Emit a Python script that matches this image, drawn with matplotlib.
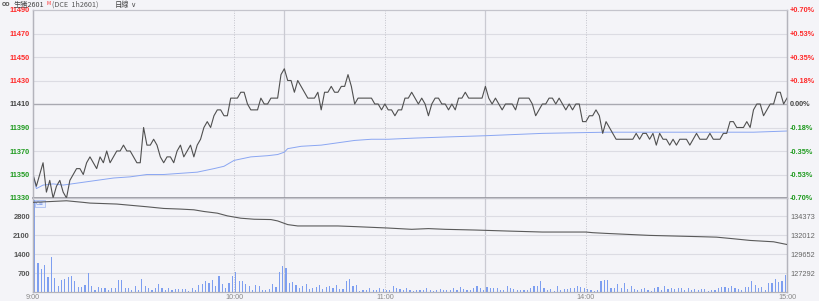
import matplotlib
matplotlib.use('Agg')
import matplotlib.pyplot as plt

plt.rcParams['font.family'] = ['Liberation Sans', 'DejaVu Sans']

# minute index 0..225 (9:00-10:15, 10:30-11:30, 13:30-15:00)
price = [
    11350, 11340, 11350, 11360, 11335, 11345, 11330, 11340, 11345, 11335,
    11330, 11345, 11350, 11355, 11355, 11350, 11360, 11365, 11360, 11355,
    11365, 11360, 11370, 11360, 11365, 11370, 11370, 11375, 11370, 11370,
    11365, 11360, 11360, 11390, 11375, 11375, 11380, 11375, 11365, 11360,
    11365, 11365, 11360, 11370, 11375, 11365, 11370, 11375, 11365, 11375,
    11380, 11390, 11395, 11390, 11400, 11405, 11405, 11400,
    11400, 11415, 11415, 11415, 11420, 11420, 11410, 11405, 11405, 11405,
    11415, 11410, 11410, 11415, 11415, 11415, 11435, 11440, 11430, 11430,
    11420, 11430, 11425, 11420, 11415, 11415, 11415, 11420, 11405, 11420,
    11420, 11425, 11420, 11420, 11425, 11425, 11435, 11425, 11410, 11415,
    11415, 11415, 11415, 11415, 11410, 11410, 11405, 11410, 11405, 11405,
    11400, 11405, 11405, 11415, 11415, 11420, 11415,
    11410, 11415, 11410, 11400, 11410, 11415, 11415, 11410, 11410, 11405,
    11410, 11405, 11415, 11415, 11420, 11415, 11415, 11415, 11415, 11415,
    11425, 11415, 11410, 11415, 11410, 11405, 11410, 11410, 11410, 11405,
    11415, 11415, 11415, 11415, 11410, 11400, 11405, 11410, 11410, 11415,
    11415, 11410, 11415, 11410, 11405, 11410, 11405, 11410, 11410, 11395,
    11395, 11400, 11400, 11405, 11400, 11385, 11395, 11390, 11385, 11380,
    11380, 11380, 11380, 11380, 11380, 11385, 11380, 11385, 11385, 11380,
    11385, 11375, 11385, 11380, 11380, 11375, 11380, 11375, 11380, 11380,
    11380, 11375, 11380, 11385, 11380, 11380, 11380, 11385, 11380, 11380,
    11380, 11385, 11385, 11395, 11395, 11390, 11390, 11390, 11395, 11390,
    11405, 11410, 11410, 11400, 11405, 11410, 11410, 11420, 11420, 11410, 11415,
]

volume = [
    3400, 1060, 860, 1000, 560, 1310, 520, 240, 440, 500,
    560, 600, 400, 200, 200, 270, 690, 240, 90, 190,
    150, 150, 60, 150, 150, 440, 440, 150, 150, 90,
    210, 60, 490, 210, 150, 90, 150, 310, 150, 90,
    150, 60, 110, 110, 110, 110, 40, 150, 90, 275,
    300, 400, 340, 440, 210, 590, 310, 150, 340, 590,
    740, 400, 400, 310, 240, 90, 260, 210, 90, 90,
    110, 310, 190, 740, 960, 900, 340, 375, 250, 150,
    210, 310, 110, 140, 190, 260, 110, 190, 240, 150,
    260, 110, 110, 400, 500, 240, 260, 40, 60, 90,
    150, 60, 60, 140, 110, 60, 60, 210, 150, 110,
    90, 150, 60, 40, 60, 90, 60, 150, 90, 40,
    90, 110, 60, 90, 60, 140, 90, 190, 110, 90,
    90, 140, 210, 140, 90, 190, 150, 150, 150, 90,
    60, 210, 150, 110, 60, 90, 60, 90, 150, 210,
    210, 400, 140, 90, 110, 40, 210, 60, 110, 110,
    140, 140, 210, 190, 150, 110, 60, 40, 60,
    400, 440, 460, 150, 150, 310, 140, 340, 110, 210,
    110, 90, 110, 140, 90, 40, 150, 175, 90, 240,
    110, 140, 110, 140, 140, 90, 140, 90, 110, 90,
    110, 110, 40, 60, 60, 150, 175, 175, 150, 210,
    140, 110, 60, 190, 190, 400, 275, 140, 190, 90,
    325, 325, 475, 360, 410, 640, 0,
]

# average price line, read at sample minutes
avg_min = [0, 1, 3, 6, 9, 14, 19, 24, 29, 34, 39, 44, 49, 54, 57, 60, 65, 70,
           73, 75, 76, 80, 86, 91, 96, 101, 106, 114, 124, 135, 152, 171, 200, 215, 225]
avg_val = [11350, 11338, 11341, 11342, 11341, 11343, 11345, 11347, 11348, 11350,
           11350, 11351, 11352, 11355, 11357, 11362, 11365, 11366, 11367, 11369,
           11372, 11374, 11375, 11377, 11379, 11380, 11380, 11381, 11382, 11383,
           11385, 11386, 11386, 11386, 11387]

# open interest, read at sample minutes
oi_min = [0, 4, 10, 15, 17, 25, 34, 39, 44, 48, 51, 55, 58, 62, 66, 71, 73, 76, 79,
          91, 96, 106, 113, 118, 123, 132, 142, 152, 165, 167, 171, 184, 199, 204,
          209, 214, 221, 225]
oi_val = [136140, 136220, 136340, 136140, 136050, 135930, 135590, 135380, 135300,
          135210, 135000, 134790, 134450, 134160, 134030, 133990, 133820, 133360,
          133190, 133190, 133110, 132930, 132770, 132860, 132770, 132680, 132550,
          132430, 132430, 132350, 132260, 132010, 131850, 131790, 131590, 131380,
          131210, 130870]

base = 11410
price_ticks = [11330, 11350, 11370, 11390, 11410, 11430, 11450, 11470, 11490]
vol_ticks = [700, 1400, 2100, 2800]
oi_ticks = [127292, 129652, 132012, 134373]
time_pos = [0, 60, 105, 165, 225]
time_lab = ['9:00', '10:00', '11:00', '14:00', '15:00']

bg = '#f4f4f8'
grid_c = '#dcdce3'
red = '#ff2a2a'
green = '#1e9a1e'
dark = '#444444'

W, H = 819, 301
fig = plt.figure(figsize=(W / 100, H / 100), dpi=100, facecolor=bg)
L, R = 33, 787
ax1 = fig.add_axes([L / W, 1 - 198 / H, (R - L) / W, (198 - 10) / H], facecolor=bg)
ax2 = fig.add_axes([L / W, 1 - 292 / H, (R - L) / W, (292 - 198) / H], facecolor=bg)

x = list(range(len(price)))

# ---- price panel
for p in price_ticks[1:-1]:
    ax1.axhline(p, color='#a9a9b1' if p == base else grid_c, lw=1.0 if p == base else 0.8, zorder=1)
for ax in (ax1, ax2):
    for m in (60, 105, 165):
        ax.axvline(m, color='#c4c4cc', lw=0.7, ls=(0, (1, 1.5)), zorder=1)
    for m in (75, 135):
        ax.axvline(m, color='#cacad2', lw=0.9, zorder=1)

ax1.plot(x, price, color='#505050', lw=0.8, zorder=3)
ax1.plot(avg_min, avg_val, color='#8aa6f2', lw=0.7, zorder=2)
ax1.set_xlim(0, 225)
ax1.set_ylim(11330, 11490)
ax1.set_xticks([])
ax1.set_yticks(price_ticks)
ax1.set_yticklabels([str(p) for p in price_ticks])
ax1.tick_params(axis='y', length=0, pad=2.2, labelsize=5.3)
for lab, p in zip(ax1.get_yticklabels(), price_ticks):
    lab.set_color(red if p > base else (green if p < base else dark))
    lab.set_fontweight('bold')

ax1r = ax1.twinx()
ax1r.set_ylim(ax1.get_ylim())
ax1r.set_yticks(price_ticks)
pct_labels = []
for p in price_ticks:
    v = (p - base) / base * 100
    pct_labels.append('0.00%' if p == base else f'{v:+.2f}%')
ax1r.set_yticklabels(pct_labels)
ax1r.tick_params(axis='y', length=0, pad=2.2, labelsize=5.3)
for lab, p in zip(ax1r.get_yticklabels(), price_ticks):
    lab.set_color(red if p > base else (green if p < base else dark))
    lab.set_fontweight('bold')

# ---- volume / open interest panel
for v in vol_ticks:
    ax2.axhline(v, color=grid_c, lw=0.8, zorder=1)
ax2.bar([i + 0.5 for i in range(len(volume))], volume, width=0.35, color='#7d9ef0', zorder=2)
ax2.set_xlim(0, 225)
ax2.set_ylim(0, 3486)
ax2.set_yticks(vol_ticks)
ax2.set_yticklabels([str(v) for v in vol_ticks])
ax2.tick_params(axis='y', length=0, pad=2.2, labelsize=5.4, labelcolor='#555555')
for lab in ax2.get_yticklabels():
    lab.set_fontweight('bold')
ax2.set_xticks(time_pos)
ax2.set_xticklabels(time_lab)
ax2.tick_params(axis='x', length=0, pad=1.5, labelsize=5.2, labelcolor='#888888')

ax2r = ax2.twinx()
ax2r.plot(oi_min, oi_val, color='#5a5a5a', lw=0.8, zorder=3)
ax2r.set_ylim(124932, 136686)
ax2r.set_yticks(oi_ticks)
ax2r.set_yticklabels([str(v) for v in oi_ticks])
ax2r.tick_params(axis='y', length=0, pad=2.2, labelsize=5.3, labelcolor='#666666')

ax2.text(0.004, 0.97, 'C\u2261', transform=ax2.transAxes, fontsize=3.8, color='#5b7fe0',
         va='top', ha='left', zorder=5, family=['DejaVu Sans'],
         bbox=dict(boxstyle='square,pad=0.15', fc='#e8eefc', ec='#9db4f0', lw=0.5))

for ax in (ax1, ax1r, ax2, ax2r):
    for s in ('left', 'right'):
        ax.spines[s].set_color('#b4b4bc')
        ax.spines[s].set_linewidth(0.9)
    ax.spines['top'].set_color('#c4c4cc')
    ax.spines['top'].set_linewidth(0.8)
    ax.spines['bottom'].set_color('#b4b4bc')
    ax.spines['bottom'].set_linewidth(0.8)
ax1.spines['bottom'].set_color('#8e8e96')
ax1.spines['bottom'].set_linewidth(1.2)

# ---- header
cjk = ['Noto Sans CJK SC', 'DejaVu Sans']
fig.text(2 / W, 1 - 5 / H, 'oo', fontsize=5, color='#555555', va='center', fontweight='bold')
fig.text(14 / W, 1 - 5 / H, '生猪2601', fontsize=5.2, color='#444444', va='center', family=cjk)
fig.text(46.5 / W, 1 - 3.2 / H, 'M', fontsize=3.6, color=red, va='center', family=cjk)
fig.text(52 / W, 1 - 5 / H, '(DCE  1h2601)', fontsize=5.2, color='#555555', va='center', family=cjk)
fig.text(115 / W, 1 - 5 / H, '日線', fontsize=5.2, color='#444444', va='center', family=cjk)
fig.text(130 / W, 1 - 5 / H, '\u2228', fontsize=5.2, color='#555555', va='center', family=['DejaVu Sans'])

fig.savefig('out.png', dpi=100, facecolor=bg)
